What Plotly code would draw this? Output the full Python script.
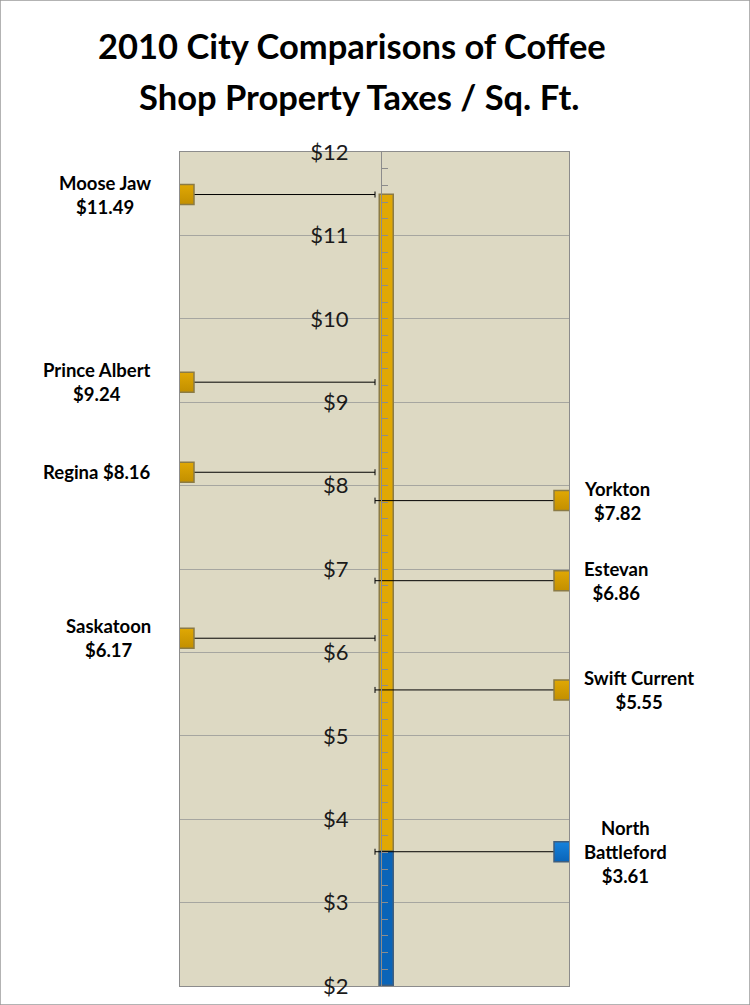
import plotly.graph_objects as go

# ---- data ----
left_cities = ["Moose Jaw", "Prince Albert", "Regina", "Saskatoon"]
left_values = [11.49, 9.24, 8.16, 6.17]
left_labels = ["Moose Jaw<br>$11.49", "Prince Albert<br>$9.24", "Regina $8.16", "Saskatoon<br>$6.17"]

right_cities = ["Yorkton", "Estevan", "Swift Current", "North Battleford"]
right_values = [7.82, 6.86, 5.55, 3.61]
right_labels = ["Yorkton<br>$7.82", "Estevan<br>$6.86", "Swift Current<br>$5.55", "North<br>Battleford<br>$3.61"]

highlight_city = "North Battleford"
tick_values = [2, 3, 4, 5, 6, 7, 8, 9, 10, 11, 12]
tick_labels = ["$2", "$3", "$4", "$5", "$6", "$7", "$8", "$9", "$10", "$11", "$12"]

title_lines = ["2010 City Comparisons of Coffee", "Shop Property Taxes / Sq. Ft."]

# ---- layout geometry (x in a 0..1 plot coordinate) ----
W, H = 750, 1005
PL, PR, PT, PB = 180, 569, 152, 986
def px_x(p):
    return (p - PL) / (PR - PL)

X_LEFT = px_x(184)
X_RIGHT = px_x(564)
X_BAR = px_x(386.5)
X_CAP = px_x(375)
BAR_W = 14 / (PR - PL)

GOLD = "#E0A804"
GOLD_DARK = "#C28F00"
GOLD_EDGE = "#8B7B45"
BLUE = "#1683DD"
BLUE_DARK = "#0A64B8"
BLUE_EDGE = "#3F5E7E"
LABEL_FONT = "Lato, Open Sans, sans-serif"

fig = go.Figure()

# thermometer-style bar
max_val = max(left_values + right_values)
hl_val = right_values[right_cities.index(highlight_city)]
fig.add_trace(go.Bar(x=[X_BAR], y=[max_val - 2], base=[2], width=[BAR_W],
                     marker=dict(color=GOLD, line=dict(color=GOLD_EDGE, width=1.5)),
                     hoverinfo="skip", showlegend=False))
fig.add_trace(go.Bar(x=[X_BAR], y=[hl_val - 2], base=[2], width=[BAR_W],
                     marker=dict(color=BLUE_DARK, line=dict(color=BLUE_EDGE, width=1.5)),
                     hoverinfo="skip", showlegend=False))

# left markers with connector (error bar)
fig.add_trace(go.Scatter(
    x=[X_LEFT] * len(left_values), y=left_values, mode="markers",
    marker=dict(symbol="square", size=20, color=GOLD, line=dict(color=GOLD_EDGE, width=1.5),
                gradient=dict(type="vertical", color=GOLD_DARK)),
    error_x=dict(type="data", symmetric=False, array=[X_CAP - X_LEFT] * len(left_values),
                 arrayminus=[0] * len(left_values), color="black", thickness=1, width=3),
    text=left_cities, hoverinfo="text+y", showlegend=False))

# right markers
right_colors = [BLUE if c == highlight_city else GOLD for c in right_cities]
right_grad = [BLUE_DARK if c == highlight_city else GOLD_DARK for c in right_cities]
right_edges = [BLUE_EDGE if c == highlight_city else GOLD_EDGE for c in right_cities]
fig.add_trace(go.Scatter(
    x=[X_RIGHT] * len(right_values), y=right_values, mode="markers",
    marker=dict(symbol="square", size=20, color=right_colors, line=dict(color=right_edges, width=1.5),
                gradient=dict(type="vertical", color=right_grad)),
    error_x=dict(type="data", symmetric=False, array=[0] * len(right_values),
                 arrayminus=[X_RIGHT - X_CAP] * len(right_values), color="black", thickness=1, width=3),
    text=right_cities, hoverinfo="text+y", showlegend=False))

annotations = []
for lab, v in zip(left_labels, left_values):
    annotations.append(dict(x=X_LEFT, y=v, xref="x", yref="y", text="<b>" + lab + "</b>",
                            showarrow=False, xanchor="right", yanchor="middle", xshift=-31, yshift=0,
                            align="center", font=dict(family=LABEL_FONT, size=18.5, color="black")))
for lab, v in zip(right_labels, right_values):
    annotations.append(dict(x=X_RIGHT, y=v, xref="x", yref="y", text="<b>" + lab + "</b>",
                            showarrow=False, xanchor="left", yanchor="middle", xshift=18, yshift=0,
                            align="center", font=dict(family=LABEL_FONT, size=18.5, color="black")))
for line, cx, cy in zip(title_lines, [352, 359], [46, 97]):
    annotations.append(dict(x=cx / W, y=1 - cy / H, xref="paper", yref="paper", text="<b>" + line + "</b>",
                            showarrow=False, xanchor="center", yanchor="middle", align="center",
                            font=dict(family=LABEL_FONT, size=34.5, color="black")))

fig.update_layout(
    width=W, height=H,
    margin=dict(l=0, r=0, t=0, b=0, pad=0),
    paper_bgcolor="white",
    plot_bgcolor="#DDD9C3",
    barmode="overlay",
    bargap=0,
    annotations=annotations,
    xaxis=dict(domain=[PL / W, PR / W], range=[0, 1], showgrid=False, zeroline=False,
               showticklabels=False, ticks="", showline=True, linecolor="#8C8C8C", mirror=True,
               linewidth=1, fixedrange=True, automargin=False),
    yaxis=dict(domain=[1 - PB / H, 1 - PT / H], range=[2, 12], showgrid=True, gridcolor="#A6A6A0",
               gridwidth=1, tickvals=tick_values, showticklabels=False, ticks="", zeroline=False,
               showline=True, linecolor="#8C8C8C", mirror=True, linewidth=1, fixedrange=True,
               automargin=False),
    yaxis2=dict(overlaying="y", anchor="free", position=381 / W, range=[2, 12], side="left",
                tickvals=tick_values, ticktext=tick_labels, showgrid=False, zeroline=False,
                showline=True, linecolor="#8C8C8C", linewidth=1, ticks="inside", ticklen=6,
                tickcolor="#8C8C8C", ticklabelstandoff=28, automargin=False,
                minor=dict(dtick=0.2, ticks="inside", ticklen=6, tickcolor="#8C8C8C"),
                tickfont=dict(family="Lato, Open Sans, sans-serif", size=22, color="#1a1a1a"),
                fixedrange=True),
    shapes=[dict(type="rect", xref="paper", yref="paper", x0=0, x1=1, y0=0, y1=1,
                 line=dict(color="#9A9A9A", width=1.5), fillcolor="rgba(0,0,0,0)")],
)

# dummy trace on yaxis2 so it renders
fig.add_trace(go.Scatter(x=[None], y=[None], yaxis="y2", showlegend=False, hoverinfo="skip"))

fig.write_html("out.html", config={"displayModeBar": False},
               post_script="document.body.style.margin='0';document.body.style.padding='0';"
                           "document.documentElement.style.overflow='hidden';")
